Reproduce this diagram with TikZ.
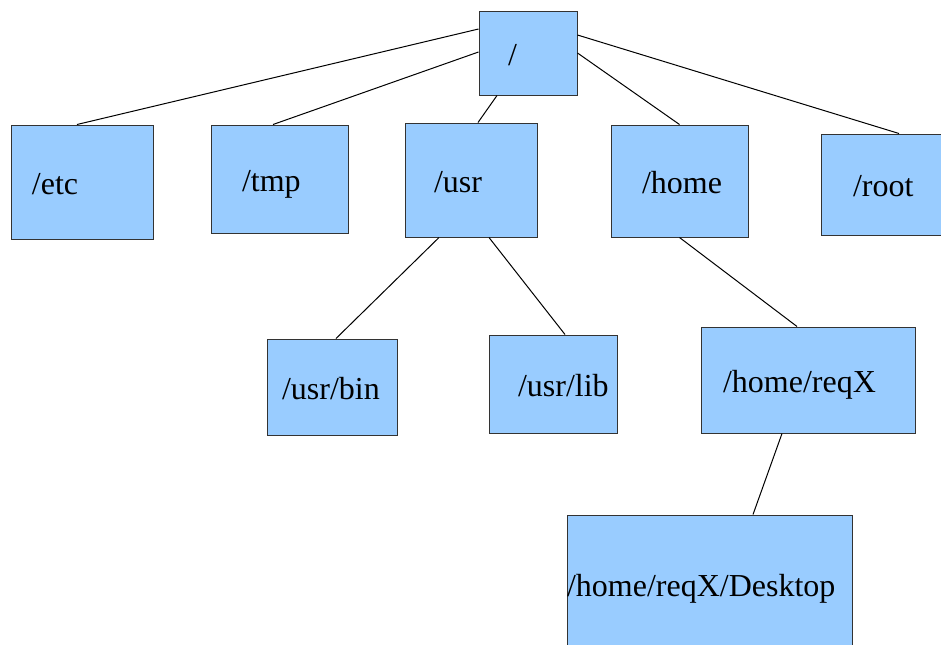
\documentclass[tikz,border=0pt]{standalone}
\usepackage{fontspec}
\setmainfont{Liberation Serif}
\newfontfamily\dirfont{Liberation Serif}
\usepackage{tikz}
\usetikzlibrary{positioning}
\definecolor{folderblue}{HTML}{99CCFF}
\tikzset{
	dir/.style={
			draw=black!80,
			fill=folderblue,
			line width=0.5pt,
			inner ysep=0pt,
			text height=12pt,
			text depth=0pt,
			align=left,
			font=\dirfont\fontsize{16}{18}\selectfont
		},
	link/.style={draw=black, line width=0.5pt}
}

\begin{document}
\begin{tikzpicture}[x=1pt,y=-1pt]
	\clip (0,0) rectangle (470.5,322);
	\useasboundingbox (0,0) rectangle (470.5,322);

	% top level
	\node[dir, minimum height=42pt, text width=20pt, inner xsep=14.5pt] at (264,26.5) (slash) {/};

	\node[dir, minimum height=57pt, text width=50pt, inner xsep=10.5pt] at (41,91) (etc) {/etc};
	\node[dir, minimum height=54pt, text width=37.5pt, inner xsep=15.5pt] at (139.75,89.5) (tmp) {/tmp};
	\node[dir, minimum height=57pt, text width=37pt, inner xsep=14.5pt] at (235.5,90) (usr) {/usr};
	\node[dir, minimum height=56pt, text width=37.5pt, inner xsep=15.5pt] at (339.75,90.5) (home) {/home};
	\node[dir, minimum height=50.5pt, text width=33pt, inner xsep=16pt] at (443,92.25) (root) {/root};

	% second level
	\node[dir, minimum height=48pt, text width=50pt, inner xsep=7.5pt] at (166,193.5) (usrbin) {/usr/bin};
	\node[dir, minimum height=49pt, text width=35pt, inner xsep=14.5pt] at (276.5,192) (usrlib) {/usr/lib};
	\node[dir, minimum height=53pt, text width=85pt, inner xsep=11pt] at (404,190) (reqx) {/home/reqX};

	% third level
	\node[dir, minimum height=69pt, text width=142.5pt, inner xsep=0pt] at (354.75,292) (desktop) {/home/reqX/Desktop};

	\draw[link] ([xshift=-2.5pt]etc.north) -- ([yshift=12pt]slash.west);
	\draw[link] ([xshift=-3.25pt]tmp.north) -- ([yshift=0.5pt]slash.west);
	\draw[link] ([xshift=3.5pt]usr.north) -- ([xshift=-15.5pt]slash.south);
	\draw[link] (home.north) -- (slash.east);
	\draw[link] ([xshift=6.5pt]root.north) -- ([yshift=9pt]slash.east);

	\draw[link] ([xshift=-16pt]usr.south) -- ([xshift=2pt]usrbin.north);
	\draw[link] ([xshift=9pt]usr.south) -- ([xshift=6pt]usrlib.north);
	\draw[link] (home.south) -- ([xshift=-5.5pt]reqx.north);
	\draw[link] ([xshift=-13pt]reqx.south) -- ([xshift=21.75pt]desktop.north);
\end{tikzpicture}
\end{document}
